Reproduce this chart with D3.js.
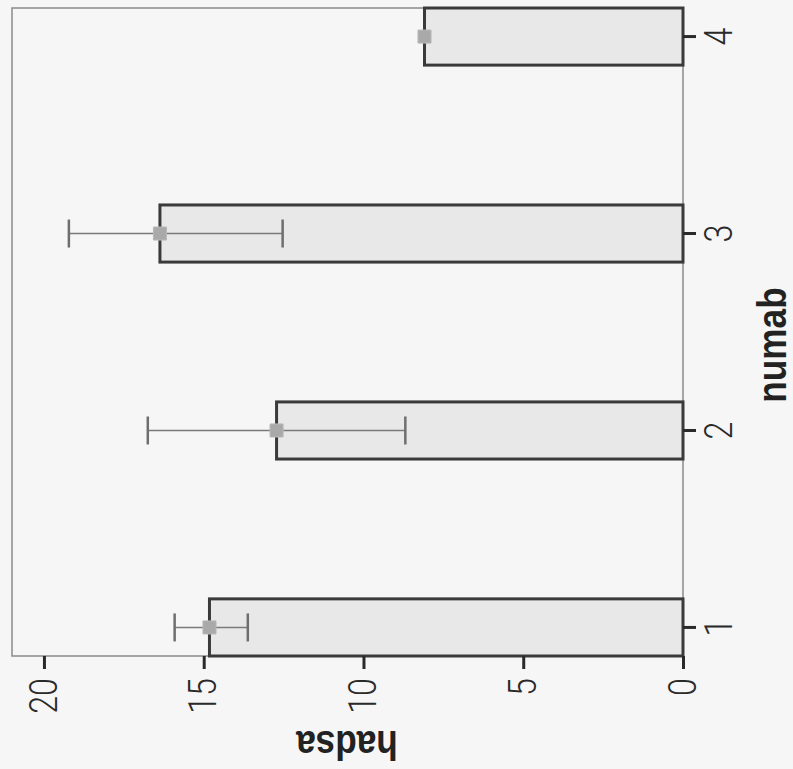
<!DOCTYPE html>
<html>
  <head>
    <script src="https://d3js.org/d3.v7.min.js"></script>
    <style>
      body { margin: 0; background: #f6f6f6; }
      svg { display: block; }
    </style>
  </head>
  <body>
    <div id="chart"></div>
  </body>
  <script>
    // chart values
    var categories = ["1", "2", "3", "4"];
    var means = [14.82, 12.72, 16.37, 8.09];
    var errLow = [13.62, 8.69, 12.53, null];
    var errHigh = [15.91, 16.75, 19.22, null];
    var yTicks = [0, 5, 10, 15, 20];

    var width = 793,
        height = 769;

    var svg = d3.select("#chart").append("svg")
        .attr("width", width)
        .attr("height", height);

    svg.append("rect")
        .attr("width", width)
        .attr("height", height)
        .attr("fill", "#f6f6f6");

    // the whole chart is drawn upright and then turned a quarter turn
    var g = svg.append("g")
        .attr("transform", "translate(0," + height + ") rotate(-90)");

    var x = d3.scaleBand()
        .domain(categories)
        .range([113, 761])
        .paddingInner(0.71)
        .paddingOuter(0);

    var y = d3.scaleLinear()
        .domain([0, 21])
        .range([683, 12]);

    var data = categories.map(function(c, i) {
      return {cat: c, mean: means[i], lo: errLow[i], hi: errHigh[i]};
    });

    // frame
    g.append("rect")
        .attr("x", 113)
        .attr("y", 12)
        .attr("width", 761 - 113)
        .attr("height", 683 - 12)
        .attr("fill", "none")
        .attr("stroke", "#8a8a8a")
        .attr("stroke-width", 1.5);

    // bars
    g.selectAll(".bar")
        .data(data)
        .enter()
        .append("rect")
          .attr("class", "bar")
          .attr("x", function(d) { return x(d.cat); })
          .attr("width", x.bandwidth())
          .attr("y", function(d) { return y(d.mean); })
          .attr("height", function(d) { return y(0) - y(d.mean); })
          .attr("fill", "#e8e8e8")
          .attr("stroke", "#3a3a3a")
          .attr("stroke-width", 3);

    // error bars
    var eb = data.filter(function(d) { return d.lo != null; });
    var cx = function(d) { return x(d.cat) + x.bandwidth() / 2; };

    g.selectAll(".err")
        .data(eb)
        .enter()
        .append("line")
          .attr("x1", cx).attr("x2", cx)
          .attr("y1", function(d) { return y(d.lo); })
          .attr("y2", function(d) { return y(d.hi); })
          .attr("stroke", "#7a7a7a")
          .attr("stroke-width", 1.5);

    ["lo", "hi"].forEach(function(k) {
      g.selectAll(".cap-" + k)
          .data(eb)
          .enter()
          .append("line")
            .attr("x1", function(d) { return cx(d) - 14; })
            .attr("x2", function(d) { return cx(d) + 14; })
            .attr("y1", function(d) { return y(d[k]); })
            .attr("y2", function(d) { return y(d[k]); })
            .attr("stroke", "#6e6e6e")
            .attr("stroke-width", 2.5);
    });

    // mean markers
    g.selectAll(".marker")
        .data(data)
        .enter()
        .append("path")
          .attr("d", d3.symbol(d3.symbolSquare, 170))
          .attr("transform", function(d) { return "translate(" + cx(d) + "," + y(d.mean) + ")"; })
          .attr("fill", "#a9a9a9")
          .attr("stroke", "#b8b8b8")
          .attr("stroke-width", 1);

    // axes
    var tickFont = "Roboto, 'Liberation Sans', sans-serif";
    var sx = 0.85;

    var yAxis = g.append("g")
        .attr("transform", "translate(113,0)")
        .call(d3.axisLeft(y).tickValues(yTicks).tickSize(13).tickFormat(d3.format("d")));
    yAxis.select(".domain").remove();
    yAxis.selectAll("line").attr("stroke", "#2a2a2a").attr("stroke-width", 3);
    yAxis.selectAll("text")
        .attr("x", -22 / sx)
        .attr("transform", "scale(" + sx + ",1)")
        .attr("fill", "#2a2a2a")
        .style("font-family", tickFont)
        .style("font-weight", 300)
        .style("font-size", "38px");

    var xAxis = g.append("g")
        .attr("transform", "translate(0,683)")
        .call(d3.axisBottom(x).tickSize(13));
    xAxis.select(".domain").remove();
    xAxis.selectAll("line").attr("stroke", "#2a2a2a").attr("stroke-width", 3);
    xAxis.selectAll("text")
        .attr("y", 22)
        .attr("transform", "scale(" + sx + ",1)")
        .attr("fill", "#2a2a2a")
        .style("font-family", tickFont)
        .style("font-weight", 300)
        .style("font-size", "38px");

    // axis titles
    g.append("text")
        .attr("transform", "translate(424,786) scale(0.88,1)")
        .attr("text-anchor", "middle")
        .attr("fill", "#222")
        .style("font-family", "'Liberation Sans', Arial, sans-serif")
        .style("font-weight", "bold")
        .style("font-size", "40px")
        .text("numab");

    g.append("text")
        .attr("transform", "translate(38,347) rotate(-90) scale(0.88,1)")
        .attr("text-anchor", "middle")
        .attr("fill", "#222")
        .style("font-family", "'Liberation Sans', Arial, sans-serif")
        .style("font-weight", "bold")
        .style("font-size", "40px")
        .text("hadsa");
  </script>
</html>
